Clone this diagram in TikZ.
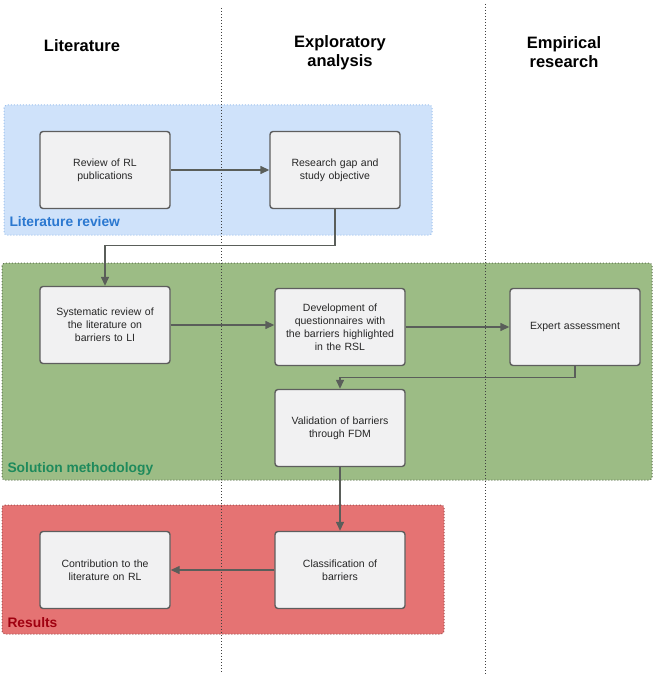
\documentclass[tikz,border=0pt]{standalone}
\usepackage{fontspec}
\setmainfont{Liberation Sans}
\usetikzlibrary{arrows.meta}
\definecolor{lanefill}{HTML}{CFE2FA}
\definecolor{laneblue}{HTML}{2B78D0}
\definecolor{methfill}{HTML}{9CBC85}
\definecolor{methtext}{HTML}{1E8A5C}
\definecolor{resfill}{HTML}{E57373}
\definecolor{restext}{HTML}{A00010}
\definecolor{boxfill}{HTML}{F1F1F2}
\definecolor{boxline}{HTML}{5E5E5E}
\definecolor{flow}{HTML}{5A5E5A}
\tikzset{
  stepbox/.style={draw=boxline, fill=boxfill, line width=1.4pt, rounded corners=3pt,
    minimum width=130pt, minimum height=77pt, align=center, text width=118pt,
    font=\fontsize{10.5}{13}\selectfont, text=black!85},
  flowline/.style={draw=flow, line width=1.4pt, -{Triangle[length=9pt,width=8pt]}},
  header/.style={font=\fontsize{16.5}{19}\selectfont\bfseries, align=center},
  zone/.style={dotted, line width=1pt, rounded corners=3pt},
  zonelabel/.style={font=\fontsize{13.8}{16}\selectfont\bfseries, anchor=base west},
  divider/.style={dotted, line width=1pt, draw=black!75}
}
\begin{document}
\begin{tikzpicture}[x=1pt, y=-1pt]
\useasboundingbox (0,0) rectangle (653,674);

% swim-lane bands
\draw[zone, fill=lanefill, draw=lanefill!70!laneblue] (4,105) rectangle (432,235);
\draw[zone, fill=methfill, draw=methfill!60!black] (2,263) rectangle (652,480);
\draw[zone, fill=resfill, draw=resfill!70!black] (2,505) rectangle (444,634);

\node[zonelabel, text=laneblue] (lblrev) at (6,226) {Literature review};
\node[zonelabel, text=methtext] (lblmeth) at (4,472) {Solution methodology};
\node[zonelabel, text=restext] (lblres) at (4,627) {Results};

% column dividers
\draw[divider] (221,8) -- (221,674);
\draw[divider] (485,4) -- (485,674);

% column headers
\node[header] (hlit) at (82,46) {Literature};
\node[header] (hexp) at (340,53) {Exploratory\\analysis};
\node[header] (hemp) at (564,52) {Empirical\\research};

% process steps
\node[stepbox] (rev) at (105,170) {Review of RL\\publications};
\node[stepbox] (gap) at (335,170) {Research gap and\\study objective};
\node[stepbox] (sys) at (105,325) {Systematic review of\\the literature on\\barriers to LI};
\node[stepbox] (dev) at (340,327) {Development of\\questionnaires with\\the barriers highlighted\\in the RSL};
\node[stepbox] (exp) at (575,327) {Expert assessment};
\node[stepbox] (val) at (340,428) {Validation of barriers\\through FDM};
\node[stepbox] (con) at (105,570) {Contribution to the\\literature on RL};
\node[stepbox] (cla) at (340,570) {Classification of\\barriers};

% connectors
\draw[flowline] (rev) -- (gap);
\draw[flowline] (gap.south) -- ++(0,36) -| (sys.north);
\draw[flowline] (sys) -- (sys -| dev.west);
\draw[flowline] (dev) -- (dev -| exp.west);
\draw[flowline] (exp.south) -- ++(0,11) -| (val.north);
\draw[flowline] (val) -- (cla);
\draw[flowline] (cla) -- (con);
\end{tikzpicture}
\end{document}
